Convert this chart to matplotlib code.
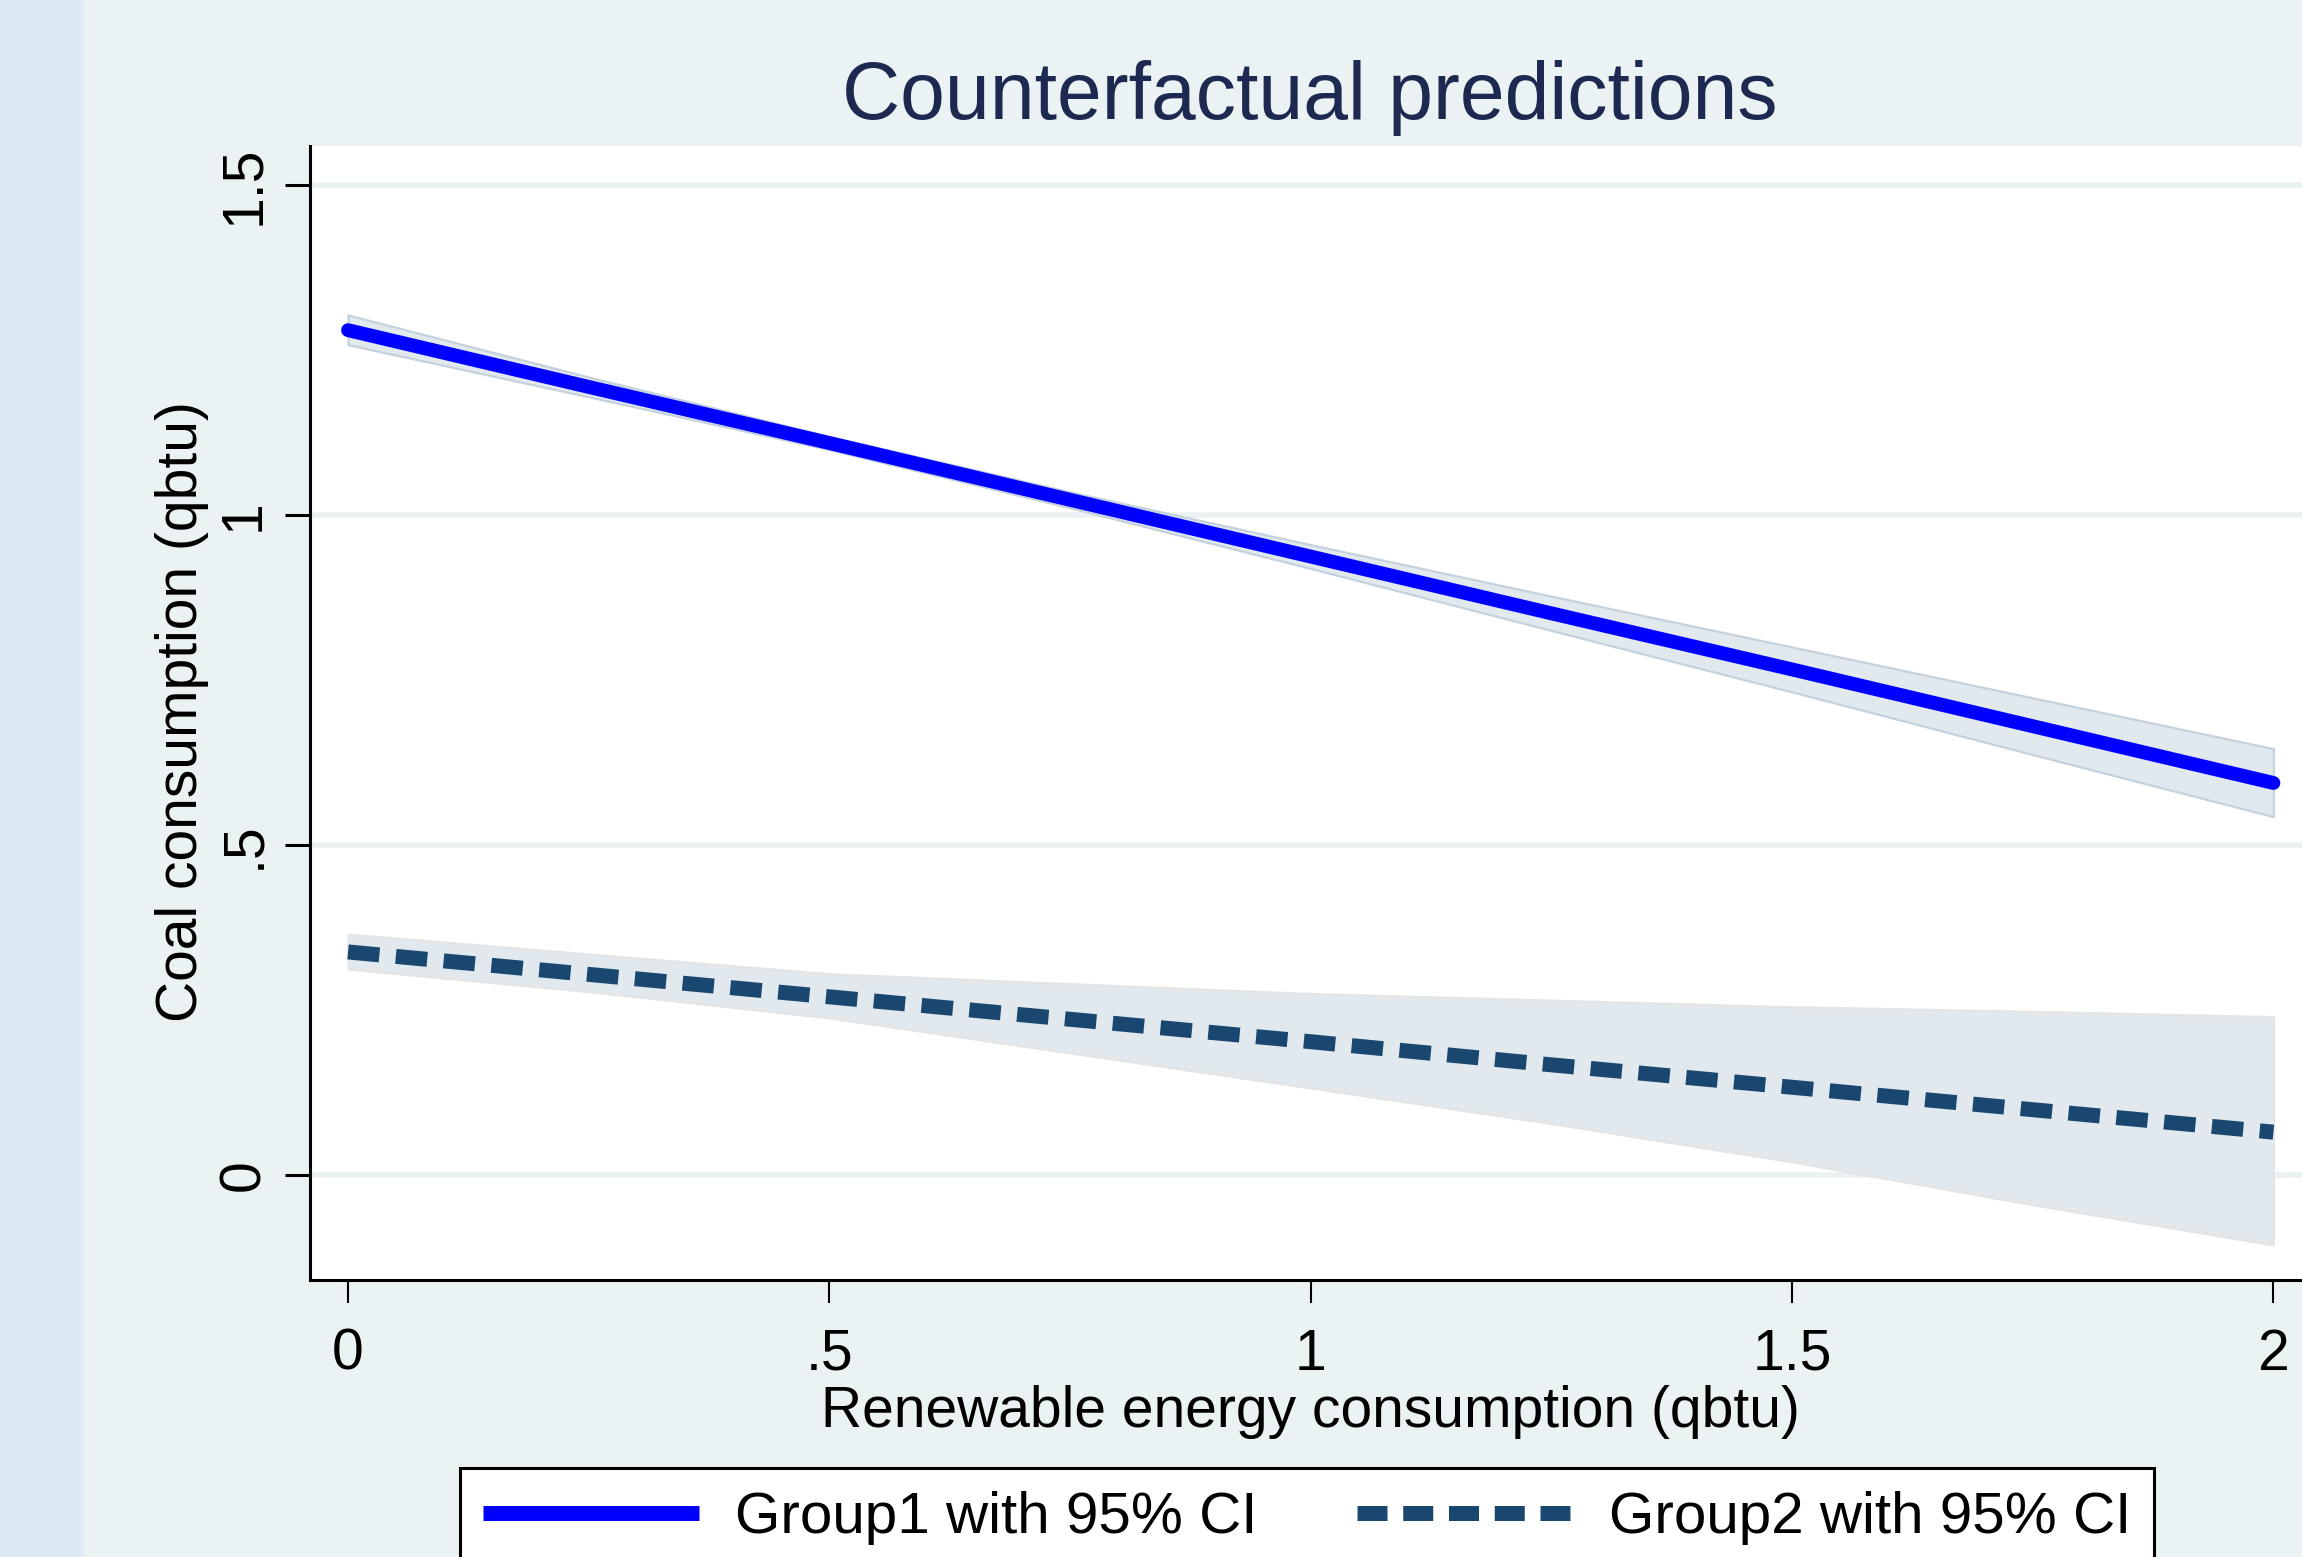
import matplotlib
matplotlib.use("Agg")
import matplotlib.pyplot as plt
from matplotlib.lines import Line2D
from matplotlib.patches import Rectangle

plt.rcParams['font.family'] = ['Liberation Sans', 'DejaVu Sans']

# ---- data ----
x_vals = [0.0, 0.25, 0.5, 0.75, 1.0, 1.25, 1.5, 1.75, 2.0]
group1_pred = [1.280, 1.194, 1.109, 1.023, 0.937, 0.851, 0.766, 0.680, 0.594]
group1_upper = [1.303, 1.209, 1.119, 1.035, 0.955, 0.877, 0.800, 0.723, 0.646]
group1_lower = [1.258, 1.179, 1.099, 1.011, 0.919, 0.825, 0.732, 0.637, 0.543]
group2_pred = [0.338, 0.304, 0.270, 0.236, 0.202, 0.167, 0.133, 0.099, 0.065]
group2_upper = [0.365, 0.335, 0.305, 0.290, 0.275, 0.265, 0.255, 0.248, 0.240]
group2_lower = [0.312, 0.278, 0.238, 0.185, 0.132, 0.078, 0.020, -0.045, -0.106]
x_ticks = [0, 0.5, 1, 1.5, 2]
x_ticklabels = ["0", ".5", "1", "1.5", "2"]
y_ticks = [0, 0.5, 1, 1.5]
y_ticklabels = ["0", ".5", "1", "1.5"]
legend_labels = ["Group1 with 95% CI", "Group2 with 95% CI"]
title_text = "Counterfactual predictions"
xlabel_text = "Renewable energy consumption (qbtu)"
ylabel_text = "Coal consumption (qbtu)"

W, H = 2302, 1557
DPI = 100
BG = '#eaf2f3'
BAND = '#e1e9ef'
BLUE = '#0000ff'
NAVY = '#1a476f'

fig = plt.figure(figsize=(W / DPI, H / DPI), dpi=DPI, facecolor=BG)

# left strip
fig.patches.append(Rectangle((0, 0), 84 / W, 1, transform=fig.transFigure,
                             facecolor='#dde9f4', edgecolor='none', zorder=0))

left, right = 310 / W, 2310 / W
top, bottom = 1 - 146 / H, 1 - 1280 / H
ax = fig.add_axes([left, bottom, right - left, top - bottom])
ax.set_facecolor('white')
ax.set_xlim(-0.0395, 2.038)
ax.set_ylim(-0.159, 1.559)

for s in ['top', 'right']:
    ax.spines[s].set_visible(False)
for s in ['left', 'bottom']:
    ax.spines[s].set_linewidth(2.2)
    ax.spines[s].set_color('black')

ax.set_axisbelow(True)
ax.yaxis.grid(True, color=BG, linewidth=4.0)
ax.xaxis.grid(False)

# bands and lines
ax.fill_between(x_vals, group1_lower, group1_upper, facecolor=BAND,
                edgecolor='#c5d1dc', linewidth=1.6, zorder=2)
ax.plot(x_vals, group1_pred, color=BLUE, linewidth=10, solid_capstyle='round', zorder=3)
ax.fill_between(x_vals, group2_lower, group2_upper, facecolor=BAND,
                edgecolor='#e5e5e5', linewidth=1.6, zorder=2)
ax.plot(x_vals, group2_pred, color=NAVY, linewidth=10.8, dashes=(2.1, 1.1),
        dash_capstyle='butt', zorder=3)

ax.set_xticks(x_ticks)
ax.set_xticklabels(x_ticklabels)
ax.set_yticks(y_ticks)
ax.set_yticklabels(y_ticklabels)
ax.tick_params(axis='x', direction='out', length=16.5, width=1.5, pad=48.2,
               labelsize=41, colors='black')
ax.tick_params(axis='y', direction='out', length=18, width=2.2, pad=18.7,
               labelsize=41, colors='black')
for lab in ax.get_xticklabels():
    lab.set_va('baseline')
for lab in ax.get_yticklabels():
    lab.set_rotation(90)
    lab.set_rotation_mode('anchor')
    lab.set_ha('center')
    lab.set_va('baseline')

# titles
fig.text(1310 / W, 1 - 119 / H, title_text, ha='center', va='baseline',
         fontsize=58, color='#1d2951')
fig.text(1310 / W, 1 - 1427 / H, xlabel_text, ha='center', va='baseline',
         fontsize=41, color='black')
fig.text(197 / W, 1 - 712 / H, ylabel_text, ha='center', va='baseline',
         rotation=90, rotation_mode='anchor', fontsize=41, color='black')

# legend
h1 = Line2D([], [], color=BLUE, linewidth=10.8, solid_capstyle='butt')
h2 = Line2D([], [], color=NAVY, linewidth=10.8, dashes=(2.0, 1.05), dash_capstyle='butt')
leg = fig.legend([h1, h2], legend_labels, loc='upper left',
                 bbox_to_anchor=(460 / W, 1 - 1468 / H), bbox_transform=fig.transFigure,
                 ncol=2, fontsize=42, frameon=True, fancybox=False, shadow=False,
                 framealpha=1, edgecolor='black', facecolor='white',
                 borderaxespad=0, borderpad=0.4, handlelength=3.69,
                 handletextpad=0.63, columnspacing=1.70)
leg.get_frame().set_linewidth(2.2)

fig.savefig('out.png', dpi=DPI, facecolor=BG)
